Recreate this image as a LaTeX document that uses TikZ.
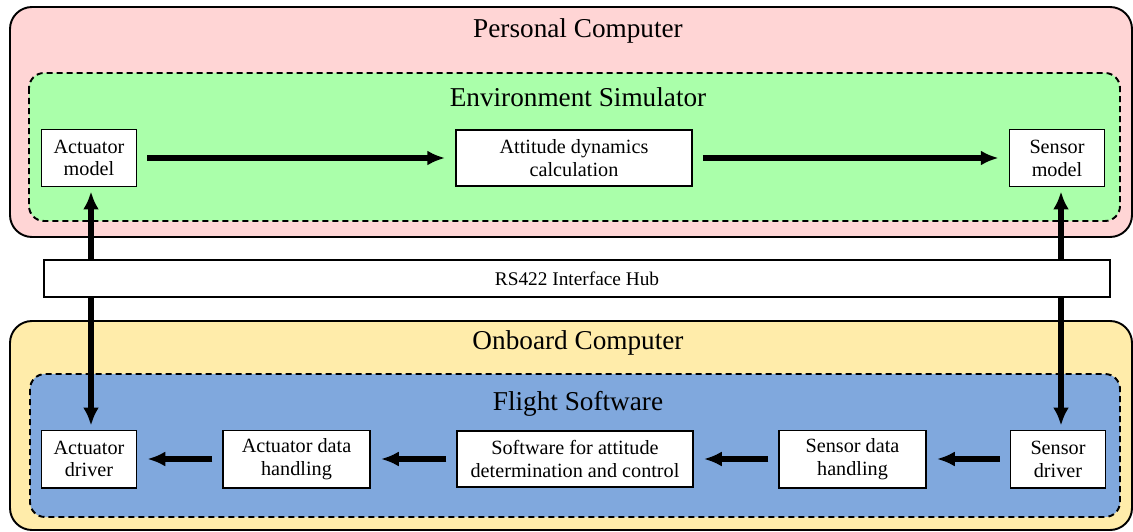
\documentclass[tikz,border=0pt]{standalone}
\usepackage{fontspec}
\setmainfont{Liberation Serif}
\usetikzlibrary{arrows.meta}
\definecolor{pcPink}{HTML}{FFD5D5}
\definecolor{envGreen}{HTML}{AAFFAA}
\definecolor{obcYellow}{HTML}{FFECAA}
\definecolor{fswBlue}{HTML}{80A8DD}

\begin{document}
\begin{tikzpicture}[x=0.2mm,y=-0.2mm]
    \tikzstyle{outerbox}=[draw=black, line width=1.1pt, rounded corners=4.4mm]
    \tikzstyle{innerbox}=[draw=black, line width=1.1pt, rounded corners=3mm, dash pattern=on 1.2mm off 0.8mm]
    \tikzstyle{blockbox}=[draw=black, fill=white, line width=0.85pt, inner sep=0pt,
      minimum width=19mm, minimum height=11.5mm, align=center, font=\fontsize{11.5}{13}\selectfont]
    \tikzstyle{titletext}=[font=\fontsize{15.5}{18}\selectfont]
    \tikzstyle{flow}=[-{Latex[length=3.6mm,width=3mm]}, line width=1.3mm, shorten >=2mm, shorten <=2mm]
    \tikzstyle{link}=[{Latex[length=3.6mm,width=3.2mm]}-{Latex[length=3.6mm,width=3.2mm]}, line width=1.3mm, shorten >=0.8mm, shorten <=0.8mm]

    \useasboundingbox (0,0) rectangle (1133,532);

    \draw[outerbox, fill=pcPink] (10,7) rectangle (1132,237);
    \draw[innerbox, fill=envGreen] (29,73) rectangle (1120,221);
    \draw[outerbox, fill=obcYellow] (10,321) rectangle (1132,530);
    \draw[innerbox, fill=fswBlue] (30,374) rectangle (1120,517);

    \node[titletext] (pc) at (578,31) {Personal Computer};
    \node[titletext] (env) at (578,97) {Environment Simulator};
    \node[titletext] (obc) at (578,343) {Onboard Computer};
    \node[titletext] (fsw) at (578,404) {Flight Software};

    \node[blockbox] (actmodel) at (89,158) {Actuator\\model};
    \node[blockbox, minimum width=47.2mm, minimum height=11.2mm] (attcalc) at (574,158) {Attitude dynamics\\calculation};
    \node[blockbox] (senmodel) at (1057,158) {Sensor\\model};

    \node[blockbox] (actdriver) at (89,459) {Actuator\\driver};
    \node[blockbox, minimum width=29.4mm] (acthandle) at (296.5,459) {Actuator data\\handling};
    \node[blockbox, minimum width=47.2mm, minimum height=11.2mm] (adcs) at (575,459) {Software for attitude\\determination and control};
    \node[blockbox, minimum width=29.4mm] (senhandle) at (852.5,459) {Sensor data\\handling};
    \node[blockbox] (sendriver) at (1058,459) {Sensor\\driver};

    \draw[flow] (actmodel) -- (attcalc);
    \draw[flow] (attcalc) -- (senmodel);
    \draw[flow] (sendriver) -- (senhandle);
    \draw[flow] (senhandle) -- (adcs);
    \draw[flow] (adcs) -- (acthandle);
    \draw[flow] (acthandle) -- (actdriver);

    \draw[link] ([xshift=0.4mm]actmodel.south) -- ([xshift=0.4mm]actdriver.north);
    \draw[link] ([xshift=0.8mm]senmodel.south) -- ([xshift=0.6mm]sendriver.north);

    \node[blockbox, minimum width=213.2mm, minimum height=7.4mm, font=\fontsize{11}{13}\selectfont] (hub) at (577,278.5) {RS422 Interface Hub};
\end{tikzpicture}
\end{document}
